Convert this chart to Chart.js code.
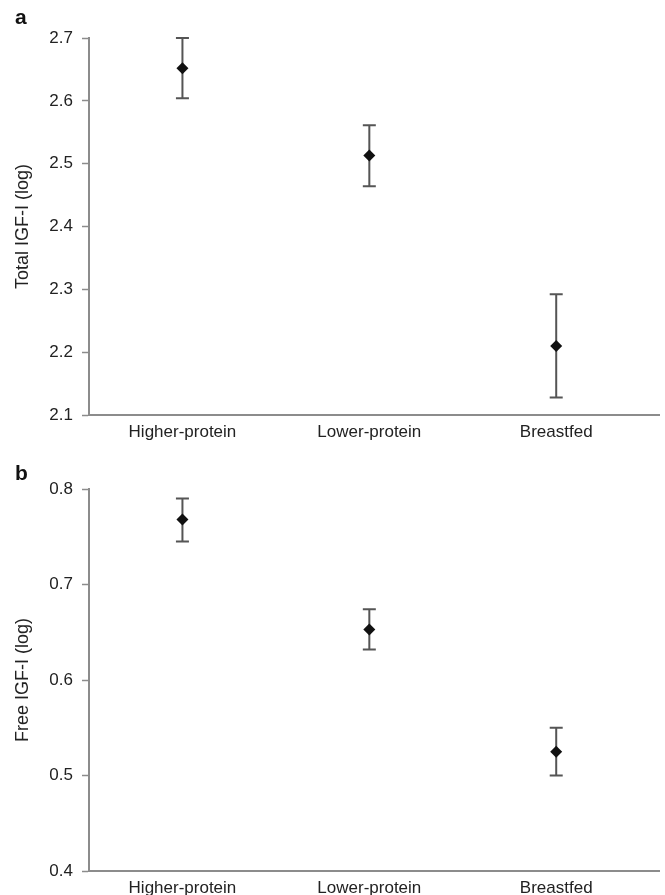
<!DOCTYPE html>
<html>
<head>
<meta charset="utf-8">
<script src="https://cdn.jsdelivr.net/npm/chart.js@4.4.0/dist/chart.umd.min.js"></script>
<style>
    html, body { margin: 0; background: #fff; overflow: hidden; font-family: "Liberation Sans", Arial, sans-serif; }
    #wrap { position: relative; width: 665px; height: 895px; overflow: hidden; }
    canvas { position: absolute; left: 0; display: block; }
    .lit { position: absolute; left: 15px; font-size: 21px; line-height: 21px; font-weight: bold; color: #111; }
</style>
</head>
<body>
<div id="wrap">
    <canvas id="wykresA" width="665" height="445" style="top:0"></canvas>
    <canvas id="wykresB" width="665" height="450" style="top:445px"></canvas>
    <div class="lit" style="top:6px">a</div>
    <div class="lit" style="top:462px">b</div>
</div>
<script>
// categories (x positions 0, 1, 2)
const categories = ['Higher-protein', 'Lower-protein', 'Breastfed'];

// panel a: total IGF-I (log)
const totalMean = [2.652, 2.513, 2.210];
const totalUpper = [2.700, 2.561, 2.292];
const totalLower = [2.604, 2.464, 2.128];
const totalTicks = [2.1, 2.2, 2.3, 2.4, 2.5, 2.6, 2.7];

// panel b: free IGF-I (log)
const freeMean = [0.768, 0.653, 0.525];
const freeUpper = [0.790, 0.674, 0.550];
const freeLower = [0.745, 0.632, 0.500];
const freeTicks = [0.4, 0.5, 0.6, 0.7, 0.8];

const axisColor = '#8c8c8c';
const textColor = '#222';
const fontFamily = '"Liberation Sans", Arial, sans-serif';

// error bars drawn before the diamonds, through the chart scales
const errorBars = {
    id: 'errorBars',
    beforeDatasetsDraw(chart, args, opts) {
        const ctx = chart.ctx;
        const xs = chart.scales.x, ys = chart.scales.y;
        ctx.save();
        ctx.strokeStyle = '#555';
        ctx.lineWidth = 2;
        for (let i = 0; i < opts.upper.length; i++) {
            const x = xs.getPixelForValue(i);
            const yTop = ys.getPixelForValue(opts.upper[i]);
            const yBot = ys.getPixelForValue(opts.lower[i]);
            ctx.beginPath();
            ctx.moveTo(x, yTop); ctx.lineTo(x, yBot);
            ctx.moveTo(x - 6.5, yTop); ctx.lineTo(x + 6.5, yTop);
            ctx.moveTo(x - 6.5, yBot); ctx.lineTo(x + 6.5, yBot);
            ctx.stroke();
        }
        ctx.restore();
    }
};

function rysujPanel(canvasId, mean, upper, lower, ticks, title, padTop, xHeight) {
    const ctx = document.getElementById(canvasId).getContext('2d');
    return new Chart(ctx, {
        type: 'scatter',
        data: {
            datasets: [{
                data: mean.map((v, i) => ({ x: i, y: v })),
                pointStyle: 'rectRot',
                pointRadius: 6,
                pointHoverRadius: 6,
                backgroundColor: '#111',
                borderColor: '#111',
                borderWidth: 0
            }]
        },
        options: {
            responsive: false,
            animation: false,
            events: [],
            layout: { padding: { top: padTop, right: 0, bottom: 0, left: 0 } },
            plugins: {
                legend: { display: false },
                tooltip: { enabled: false },
                errorBars: { upper: upper, lower: lower }
            },
            scales: {
                x: {
                    type: 'linear',
                    min: -0.5,
                    max: 2.55,
                    afterBuildTicks: s => { s.ticks = categories.map((c, i) => ({ value: i })); },
                    // bez dodatkowego marginesu, os dochodzi do prawej krawedzi
                    afterFit: s => { s.height = xHeight; s.paddingLeft = 0; s.paddingRight = 0; },
                    grid: { display: false, drawTicks: false },
                    border: { color: axisColor, width: 2 },
                    ticks: {
                        padding: 7,
                        color: textColor,
                        font: { family: fontFamily, size: 17 },
                        maxRotation: 0,
                        callback: v => categories[v]
                    }
                },
                y: {
                    min: ticks[0],
                    max: ticks[ticks.length - 1],
                    afterBuildTicks: s => { s.ticks = ticks.map(t => ({ value: t })); },
                    afterFit: s => { s.width = 89; },
                    grid: { drawOnChartArea: false, tickLength: 7, tickColor: axisColor, tickWidth: 1.5 },
                    border: { color: axisColor, width: 2 },
                    ticks: {
                        padding: 9,
                        color: textColor,
                        font: { family: fontFamily, size: 17 },
                        callback: v => v.toFixed(1)
                    },
                    title: {
                        display: true,
                        text: title,
                        color: textColor,
                        font: { family: fontFamily, size: 18 },
                        padding: { top: 12, bottom: 0 }
                    }
                }
            }
        },
        plugins: [errorBars]
    });
}

rysujPanel('wykresA', totalMean, totalUpper, totalLower, totalTicks, 'Total IGF-I (log)', 38, 30);
rysujPanel('wykresB', freeMean, freeUpper, freeLower, freeTicks, 'Free IGF-I (log)', 44, 24);
</script>
</body>
</html>
